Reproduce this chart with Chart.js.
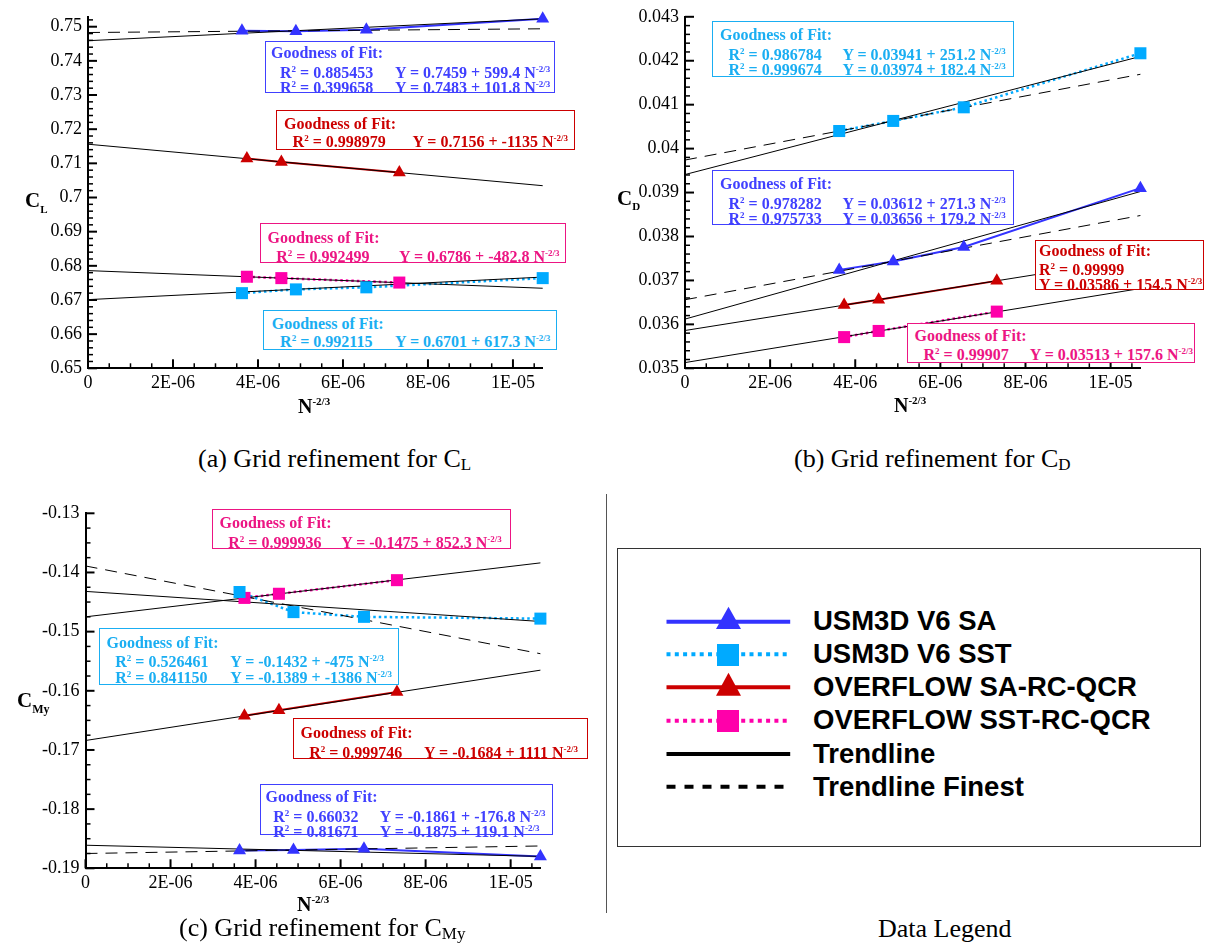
<!DOCTYPE html>
<html>
<head>
<meta charset="utf-8">
<script src="https://cdn.jsdelivr.net/npm/chart.js@4.4.0/dist/chart.umd.min.js"></script>
<style>
  body { margin: 0; background: #fff; }
  #page { position: relative; width: 1206px; height: 944px; overflow: hidden; font-family: 'Liberation Serif', 'Times New Roman', serif; color: #000; }
  canvas { position: absolute; }
  .fit { position: absolute; background: #fff; border: 1px solid; box-sizing: border-box; font-weight: bold; font-size: 16px; white-space: nowrap; }
  .fit div { position: absolute; line-height: 16px; height: 16px; }
  .sup { font-size: 9px; vertical-align: 6px; }
  .ttl { position: absolute; font-weight: bold; line-height: 24px; white-space: nowrap; }
  .cap { position: absolute; font-size: 26px; line-height: 30px; white-space: nowrap; }
  .leg { position: absolute; font-family: 'Liberation Sans', Arial, sans-serif; font-weight: bold; font-size: 27.5px; line-height: 30px; white-space: nowrap; }
</style>
</head>
<body>
<div id="page">
  <canvas id="chartA" width="600" height="400" style="left:0;top:0"></canvas>
  <canvas id="chartB" width="606" height="400" style="left:600px;top:0"></canvas>
  <canvas id="chartC" width="600" height="420" style="left:0;top:480px"></canvas>

  <div class="ttl" style="left:25px;top:188px;font-size:21px">C<span style="font-size:11px;vertical-align:-6px">L</span></div>
  <div class="ttl" style="left:298px;top:389px;font-size:20px">N<span style="font-size:11px;vertical-align:8px">-2/3</span></div>
  <div class="ttl" style="left:617px;top:186px;font-size:21px">C<span style="font-size:11px;vertical-align:-5px">D</span></div>
  <div class="ttl" style="left:894px;top:388px;font-size:20px">N<span style="font-size:11px;vertical-align:8px">-2/3</span></div>
  <div class="ttl" style="left:17px;top:688px;font-size:21px">C<span style="font-size:12px;vertical-align:-6px">My</span></div>
  <div class="ttl" style="left:297px;top:887px;font-size:20px">N<span style="font-size:11px;vertical-align:8px">-2/3</span></div>

  <div class="cap" style="left:198px;top:444px">(a) Grid refinement for C<span style="font-size:17px;vertical-align:-3px">L</span></div>
  <div class="cap" style="left:794px;top:444px">(b) Grid refinement for C<span style="font-size:17px;vertical-align:-3px">D</span></div>
  <div class="cap" style="left:179px;top:913px">(c) Grid refinement for C<span style="font-size:17px;vertical-align:-3px">My</span></div>
  <div class="cap" style="left:878px;top:914px">Data Legend</div>

  <div style="position:absolute;left:606px;top:494px;width:1px;height:419px;background:#555"></div>
  <div style="position:absolute;left:617px;top:548px;width:584px;height:299px;border:1.5px solid #333;box-sizing:border-box"></div>
  <svg style="position:absolute;left:660px;top:600px" width="140" height="200">
    <line x1="6.5" y1="21.7" x2="130.2" y2="21.7" stroke="#3333ff" stroke-width="4"/>
    <polygon points="68.5,6.7 56,29 81,29" fill="#3333ff"/>
    <line x1="6.5" y1="54.3" x2="126.7" y2="54.3" stroke="#00aaff" stroke-width="4" stroke-dasharray="4 4.3"/>
    <rect x="57" y="44" width="22" height="22" fill="#00aaff"/>
    <line x1="6.5" y1="87.3" x2="130.2" y2="87.3" stroke="#cc0000" stroke-width="4"/>
    <polygon points="68.5,72.7 56,95.7 81,95.7" fill="#cc0000"/>
    <line x1="6.5" y1="120.7" x2="126.7" y2="120.7" stroke="#ff00aa" stroke-width="4" stroke-dasharray="4 4.3"/>
    <rect x="57" y="110" width="22" height="22" fill="#ff00aa"/>
    <line x1="6.5" y1="154" x2="130.2" y2="154" stroke="#000" stroke-width="4"/>
    <line x1="6.5" y1="186.7" x2="126.7" y2="186.7" stroke="#000" stroke-width="4" stroke-dasharray="9 9"/>
  </svg>
  <div class="leg" style="left:813px;top:606px">USM3D V6 SA</div>
  <div class="leg" style="left:813px;top:639px">USM3D V6 SST</div>
  <div class="leg" style="left:813px;top:672px">OVERFLOW SA-RC-QCR</div>
  <div class="leg" style="left:813px;top:705px">OVERFLOW SST-RC-QCR</div>
  <div class="leg" style="left:813px;top:739px">Trendline</div>
  <div class="leg" style="left:813px;top:772px">Trendline Finest</div>
</div>

<script>
// grid spacing N^-2/3 for the two codes
const usmX = [3.623e-6, 4.892e-6, 6.55e-6, 1.07e-5];
const ovfX = [3.739e-6, 4.55e-6, 7.326e-6];
const xMax = 1.07e-5;

// lift coefficient
const clUsmSA = [0.7488, 0.7487, 0.7491, 0.7523];
const clUsmSST = [0.6720, 0.6731, 0.6737, 0.6764];
const clOvfSA = [0.7114, 0.7104, 0.7073];
const clOvfSST = [0.6768, 0.6764, 0.6751];

// drag coefficient
const cdUsmSA = [0.03724, 0.03743, 0.03776, 0.03910];
const cdUsmSST = [0.04040, 0.04063, 0.04094, 0.04217];
const cdOvfSA = [0.03644, 0.03656, 0.03699];
const cdOvfSST = [0.03571, 0.03585, 0.03629];

// pitching moment
const cmUsmSA = [-0.1870, -0.1869, -0.1867, -0.1880];
const cmUsmSST = [-0.1433, -0.1467, -0.1475, -0.1478];
const cmOvfSA = [-0.1642, -0.1633, -0.1602];
const cmOvfSST = [-0.1443, -0.1436, -0.1413];

// trendlines as [intercept, slope]; "finest" ones use the three finest grids
const clFitUsmSA = [0.7459, 599.4], clFinUsmSA = [0.7483, 101.8];
const clFitOvfSA = [0.7156, -1135];
const clFitOvfSST = [0.6786, -482.8];
const clFitUsmSST = [0.6701, 617.3];
const cdFitUsmSST = [0.03941, 251.2], cdFinUsmSST = [0.03974, 182.4];
const cdFitUsmSA = [0.03612, 271.3], cdFinUsmSA = [0.03656, 179.2];
const cdFitOvfSA = [0.03586, 154.5];
const cdFitOvfSST = [0.03513, 157.6];
const cmFitOvfSST = [-0.1475, 852.3];
const cmFitUsmSST = [-0.1432, -475], cmFinUsmSST = [-0.1389, -1386];
const cmFitOvfSA = [-0.1684, 1111];
const cmFitUsmSA = [-0.1861, -176.8], cmFinUsmSA = [-0.1875, 119.1];

// R^2 of each fit
const clR2UsmSA = ['0.885453', '0.399658'];
const clR2OvfSA = ['0.998979'];
const clR2OvfSST = ['0.992499'];
const clR2UsmSST = ['0.992115'];
const cdR2UsmSST = ['0.986784', '0.999674'];
const cdR2UsmSA = ['0.978282', '0.975733'];
const cdR2OvfSA = ['0.99999'];
const cdR2OvfSST = ['0.99907'];
const cmR2OvfSST = ['0.999936'];
const cmR2UsmSST = ['0.526461', '0.841150'];
const cmR2OvfSA = ['0.999746'];
const cmR2UsmSA = ['0.66032', '0.81671'];

// tick labels
const xTickLabels = ['0', '2E-06', '4E-06', '6E-06', '8E-06', '1E-05'];
const clTickLabels = ['0.65', '0.66', '0.67', '0.68', '0.69', '0.7', '0.71', '0.72', '0.73', '0.74', '0.75'];
const cdTickLabels = ['0.035', '0.036', '0.037', '0.038', '0.039', '0.04', '0.041', '0.042', '0.043'];
const cmTickLabels = ['-0.19', '-0.18', '-0.17', '-0.16', '-0.15', '-0.14', '-0.13'];

const BLUE = '#3333ff', CYAN = '#00aaff', RED = '#cc0000', PINK = '#ff00aa';
const BLUE_TXT = '#4040ff', CYAN_TXT = '#1aaef2', RED_TXT = '#cc0000', PINK_TXT = '#ec1583';

function fitLine(fit) {
  return [{ x: 0, y: fit[0] }, { x: xMax, y: fit[0] + fit[1] * xMax }];
}

// Tecplot style ticks: drawn inside the frame, with minor marks
const innerTicks = {
  id: 'innerTicks',
  afterDatasetsDraw(chart, args, opts) {
    const { ctx, chartArea: area, scales } = chart;
    ctx.save();
    ctx.strokeStyle = '#000';
    const marks = (scale, minor, horiz) => {
      const majors = scale.ticks.map(t => t.value);
      const first = Math.ceil(scale.min / minor - 1e-6);
      for (let k = first; k * minor <= scale.max + minor * 1e-6; k++) {
        const v = k * minor;
        const isMajor = majors.some(m => Math.abs(m - v) < minor * 1e-3);
        const len = isMajor ? 9 : 5;
        ctx.lineWidth = isMajor ? 2 : 1.5;
        ctx.beginPath();
        const p = scale.getPixelForValue(v);
        if (horiz) { ctx.moveTo(p, area.bottom); ctx.lineTo(p, area.bottom - len); }
        else { ctx.moveTo(area.left, p); ctx.lineTo(area.left + len, p); }
        ctx.stroke();
      }
    };
    marks(scales.x, opts.xMinor, true);
    marks(scales.y, opts.yMinor, false);
    ctx.restore();
  }
};

const tickFont = { family: 'Liberation Serif, Times New Roman, serif', size: 18 };

function makeChart(id, cfg) {
  const datasets = [];
  cfg.series.forEach(s => {
    const pts = s.x.map((x, i) => ({ x: x, y: s.y[i] }));
    datasets.push({
      data: pts, borderColor: s.color, borderWidth: s.dotted ? 2.5 : 2,
      borderDash: s.dotted ? [2.5, 3] : [], pointRadius: 0, order: 3, clip: false
    });
    datasets.push({
      data: pts, showLine: false, pointStyle: s.marker,
      pointRadius: s.marker === 'rect' ? 8.5 : 7.5,
      backgroundColor: s.color, borderColor: s.color, borderWidth: 0, order: 1, clip: false
    });
  });
  cfg.fits.forEach(f => {
    datasets.push({
      data: fitLine(f.fit), borderColor: '#000', borderWidth: 1,
      borderDash: f.finest ? [12, 8] : [], pointRadius: 0, order: 2, clip: false
    });
  });

  new Chart(document.getElementById(id), {
    type: 'line',
    data: { datasets: datasets },
    options: {
      responsive: false,
      animation: false,
      events: [],
      devicePixelRatio: 1,
      layout: { padding: { left: 0, top: cfg.top, right: cfg.right, bottom: 0 } },
      plugins: {
        legend: { display: false },
        tooltip: { enabled: false },
        innerTicks: { xMinor: 5e-7, yMinor: cfg.yMinor }
      },
      scales: {
        x: {
          type: 'linear', min: 0, max: xMax,
          afterBuildTicks: s => { s.ticks = xTickLabels.map(t => ({ value: Number(t) })); },
          afterFit: s => { s.height = cfg.xHeight; },
          ticks: { callback: (v, i) => xTickLabels[i], font: tickFont, color: '#000', padding: 4, maxRotation: 0, autoSkip: false },
          grid: { drawOnChartArea: false, drawTicks: false },
          border: { display: true, color: '#000', width: 2 }
        },
        y: {
          type: 'linear', min: cfg.yMin, max: cfg.yMax,
          afterBuildTicks: s => { s.ticks = cfg.yLabels.map(t => ({ value: Number(t) })); },
          afterFit: s => { s.width = cfg.yWidth; },
          ticks: { callback: (v, i) => cfg.yLabels[i], font: tickFont, color: '#000', padding: 6, autoSkip: false },
          grid: { drawOnChartArea: false, drawTicks: false },
          border: { display: true, color: '#000', width: 2 }
        }
      }
    },
    plugins: [innerTicks]
  });
}

makeChart('chartA', {
  yMin: 0.65, yMax: 0.7529, yLabels: clTickLabels, yMinor: 0.002,
  top: 15, right: 57.3, yWidth: 88, xHeight: 31.7,
  series: [
    { x: usmX, y: clUsmSA, color: BLUE, marker: 'triangle' },
    { x: usmX, y: clUsmSST, color: CYAN, marker: 'rect', dotted: true },
    { x: ovfX, y: clOvfSA, color: RED, marker: 'triangle' },
    { x: ovfX, y: clOvfSST, color: PINK, marker: 'rect', dotted: true }
  ],
  fits: [
    { fit: clFitUsmSA }, { fit: clFinUsmSA, finest: true },
    { fit: clFitOvfSA }, { fit: clFitOvfSST }, { fit: clFitUsmSST }
  ]
});

makeChart('chartB', {
  yMin: 0.035, yMax: 0.043, yLabels: cdTickLabels, yMinor: 0.0002,
  top: 15, right: 65.6, yWidth: 85, xHeight: 31.7,
  series: [
    { x: usmX, y: cdUsmSA, color: BLUE, marker: 'triangle' },
    { x: usmX, y: cdUsmSST, color: CYAN, marker: 'rect', dotted: true },
    { x: ovfX, y: cdOvfSA, color: RED, marker: 'triangle' },
    { x: ovfX, y: cdOvfSST, color: PINK, marker: 'rect', dotted: true }
  ],
  fits: [
    { fit: cdFitUsmSST }, { fit: cdFinUsmSST, finest: true },
    { fit: cdFitUsmSA }, { fit: cdFinUsmSA, finest: true },
    { fit: cdFitOvfSA }, { fit: cdFitOvfSST }
  ]
});

makeChart('chartC', {
  yMin: -0.19, yMax: -0.13, yLabels: cmTickLabels, yMinor: 0.0025,
  top: 33.3, right: 59.6, yWidth: 85.5, xHeight: 31.7,
  series: [
    { x: usmX, y: cmUsmSA, color: BLUE, marker: 'triangle' },
    { x: usmX, y: cmUsmSST, color: CYAN, marker: 'rect', dotted: true },
    { x: ovfX, y: cmOvfSA, color: RED, marker: 'triangle' },
    { x: ovfX, y: cmOvfSST, color: PINK, marker: 'rect', dotted: true }
  ],
  fits: [
    { fit: cmFitOvfSST }, { fit: cmFitUsmSST }, { fit: cmFinUsmSST, finest: true },
    { fit: cmFitOvfSA }, { fit: cmFitUsmSA }, { fit: cmFinUsmSA, finest: true }
  ]
});

// "Goodness of Fit" boxes, text built from the same fit numbers
function eqText(fit) {
  return 'Y = ' + fit[0] + ' + ' + fit[1] + ' N<span class="sup">-2/3</span>';
}
function r2Text(r) {
  return 'R<span class="sup">2</span> = ' + r;
}
const fitBoxes = [
  { l: 265, t: 41, w: 290, h: 52, color: BLUE_TXT, ti: 5, ys: [11, 27, 42], c1: 14, c2: 129, r2: clR2UsmSA, fits: [clFitUsmSA, clFinUsmSA] },
  { l: 276, t: 110, w: 299, h: 40, color: RED_TXT, ti: 7, ys: [13, 27], c1: 15.6, c2: 135.4, r2: clR2OvfSA, fits: [clFitOvfSA] },
  { l: 260, t: 223, w: 306, h: 40, color: PINK_TXT, ti: 6.5, ys: [13.5, 28.5], c1: 15.3, c2: 138, r2: clR2OvfSST, fits: [clFitOvfSST] },
  { l: 263, t: 310, w: 294, h: 40, color: CYAN_TXT, ti: 7.7, ys: [13.3, 27.3], c1: 16.1, c2: 131, r2: clR2UsmSST, fits: [clFitUsmSST] },
  { l: 712, t: 21, w: 302, h: 56, color: CYAN_TXT, ti: 7, ys: [12.5, 29, 44], c1: 15.5, c2: 129.5, r2: cdR2UsmSST, fits: [cdFitUsmSST, cdFinUsmSST] },
  { l: 712, t: 170, w: 302, h: 55, color: BLUE_TXT, ti: 7, ys: [13.3, 29, 44], c1: 15.5, c2: 129.5, r2: cdR2UsmSA, fits: [cdFitUsmSA, cdFinUsmSA] },
  { l: 1035, t: 240, w: 169, h: 50, color: RED_TXT, ti: 3, ys: [9.5, 24.5, 40], stacked: true, c1: 3, r2: cdR2OvfSA, fits: [cdFitOvfSA] },
  { l: 907, t: 323, w: 288, h: 40, color: PINK_TXT, ti: 6.6, ys: [12.3, 27.3], c1: 15.5, c2: 121.7, r2: cdR2OvfSST, fits: [cdFitOvfSST] },
  { l: 212, t: 509, w: 299, h: 40, color: PINK_TXT, ti: 6.5, ys: [12.5, 28.5], c1: 15.3, c2: 128.2, r2: cmR2OvfSST, fits: [cmFitOvfSST] },
  { l: 99, t: 628, w: 300, h: 57, color: CYAN_TXT, ti: 6.5, ys: [14, 29, 44.6], c1: 15.3, c2: 130.2, r2: cmR2UsmSST, fits: [cmFitUsmSST, cmFinUsmSST] },
  { l: 293, t: 718, w: 295, h: 41, color: RED_TXT, ti: 6.5, ys: [13.5, 29.5], c1: 15.2, c2: 130.1, r2: cmR2OvfSA, fits: [cmFitOvfSA] },
  { l: 260, t: 784, w: 293, h: 51, color: BLUE_TXT, ti: 4.6, ys: [12, 27.7, 42.7], c1: 12.3, c2: 118.7, r2: cmR2UsmSA, fits: [cmFitUsmSA, cmFinUsmSA] }
];

const page = document.getElementById('page');
fitBoxes.forEach(b => {
  const box = document.createElement('div');
  box.className = 'fit';
  box.style.cssText = `left:${b.l}px;top:${b.t}px;width:${b.w}px;height:${b.h}px;color:${b.color};border-color:${b.color}`;
  const line = (html, x, yc) => {
    const d = document.createElement('div');
    d.innerHTML = html;
    d.style.left = x + 'px';
    d.style.top = (yc - 8) + 'px';
    box.appendChild(d);
  };
  line('Goodness of Fit:', b.ti, b.ys[0]);
  if (b.stacked) {
    line(r2Text(b.r2[0]), b.c1, b.ys[1]);
    line(eqText(b.fits[0]), b.c1, b.ys[2]);
  } else {
    b.r2.forEach((r, i) => {
      line(r2Text(r), b.c1, b.ys[i + 1]);
      line(eqText(b.fits[i]), b.c2, b.ys[i + 1]);
    });
  }
  page.appendChild(box);
});
</script>
</body>
</html>
